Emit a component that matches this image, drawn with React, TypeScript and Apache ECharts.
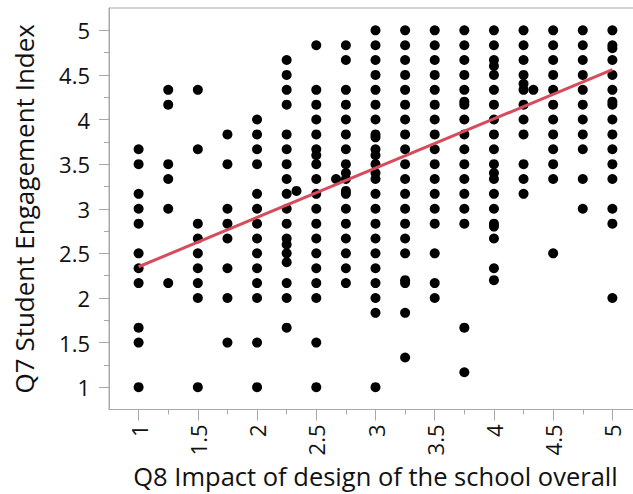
import React, { useEffect, useRef } from "react";
import * as echarts from "echarts";

// x positions (Q8) of each column of points
const xValues = [1, 1.25, 1.5, 1.75, 2, 2.25, 2.333, 2.5, 2.667, 2.75, 3, 3.25, 3.5, 3.75, 4, 4.25, 4.333, 4.5, 4.75, 5];

// y values (Q7) for each column, in the same order as xValues
const yColumns: number[][] = [
  [3.667, 3.5, 3.167, 3, 2.833, 2.5, 2.333, 2.167, 1.667, 1.5, 1],
  [4.333, 4.167, 3.5, 3.333, 3, 2.167],
  [4.333, 3.667, 2.833, 2.667, 2.5, 2.333, 2.167, 2, 1],
  [3.833, 3.5, 3, 2.833, 2.667, 2.333, 2, 1.5],
  [4, 3.833, 3.667, 3.5, 3.167, 3, 2.833, 2.667, 2.5, 2.333, 2.167, 2, 1.5, 1],
  [4.667, 4.5, 4.333, 4.167, 3.833, 3.667, 3.5, 3.333, 3.167, 3, 2.833, 2.667, 2.6, 2.5, 2.4, 2.167, 2, 1.667],
  [3.2],
  [4.833, 4.333, 4.167, 4, 3.833, 3.667, 3.6, 3.5, 3.333, 3.167, 3, 2.833, 2.667, 2.5, 2.333, 2.167, 2, 1.5, 1],
  [3.333],
  [4.833, 4.667, 4.333, 4.167, 4, 3.833, 3.667, 3.5, 3.4, 3.333, 3.2, 3.167, 3, 2.833, 2.667, 2.5, 2.333, 2.167],
  [5, 4.833, 4.667, 4.5, 4.333, 4.167, 4, 3.833, 3.8, 3.667, 3.6, 3.5, 3.4, 3.333, 3.167, 3, 2.833, 2.667, 2.5, 2.333, 2.167, 2, 1.833, 1],
  [5, 4.833, 4.667, 4.5, 4.333, 4.167, 4, 3.833, 3.667, 3.5, 3.333, 3.167, 3, 2.833, 2.667, 2.5, 2.2, 2.167, 1.833, 1.333],
  [5, 4.833, 4.667, 4.5, 4.333, 4.167, 4, 3.833, 3.667, 3.5, 3.333, 3.167, 3, 2.833, 2.5, 2.167, 2],
  [5, 4.833, 4.667, 4.5, 4.333, 4.2, 4.167, 4, 3.833, 3.667, 3.5, 3.333, 3.167, 3, 2.833, 1.667, 1.167],
  [5, 4.833, 4.667, 4.6, 4.5, 4.333, 4.167, 4, 3.833, 3.667, 3.5, 3.4, 3.333, 3.167, 3, 2.833, 2.8, 2.667, 2.333, 2.2],
  [5, 4.833, 4.667, 4.5, 4.4, 4.333, 4.167, 4, 3.833, 3.5, 3.333, 3.167],
  [4.333],
  [5, 4.833, 4.667, 4.5, 4.333, 4.167, 4, 3.833, 3.667, 3.5, 3.333, 2.5],
  [5, 4.833, 4.667, 4.5, 4.333, 4.167, 4, 3.833, 3.667, 3.333, 3],
  [5, 4.833, 4.8, 4.667, 4.5, 4.333, 4.2, 4.167, 4, 3.833, 3.667, 3.5, 3.333, 3, 2.833, 2],
];

// fitted line endpoints
const fitX = [1, 5];
const fitY = [2.35, 4.56];

// tick labels
const xTickLabels = [1, 1.5, 2, 2.5, 3, 3.5, 4, 4.5, 5];
const yTickLabels = [1, 1.5, 2, 2.5, 3, 3.5, 4, 4.5, 5];
const minorTicks = [1.25, 1.75, 2.25, 2.75, 3.25, 3.75, 4.25, 4.75];

const xTitle = "Q8 Impact of design of the school overall";
const yTitle = "Q7 Student Engagement Index";

const FONT = "'Open Sans', 'Noto Sans', sans-serif";
const AXIS_GRAY = "#a8a8a8";

export default function App() {
  const ref = useRef<HTMLDivElement>(null);

  useEffect(() => {
    if (!ref.current) return;
    const chart = echarts.init(ref.current, undefined, { renderer: "svg" });

    const points: number[][] = [];
    xValues.forEach((x, i) => {
      yColumns[i].forEach((y) => points.push([x, y]));
    });
    const fitLine = fitX.map((x, i) => [x, fitY[i]]);

    const baseAxis = {
      type: "value" as const,
      min: 0.75,
      max: 5.25,
      splitLine: { show: false },
    };

    chart.setOption({
      animation: false,
      grid: {
        left: 109,
        top: 8,
        width: 533,
        height: 401.5,
        containLabel: false,
        outerBoundsMode: "none",
        show: true,
        borderColor: AXIS_GRAY,
        borderWidth: 1,
        backgroundColor: "transparent",
      },
      xAxis: [
        {
          ...baseAxis,
          position: "bottom",
          axisLine: { show: true, onZero: false, lineStyle: { color: AXIS_GRAY, width: 1 } },
          axisTick: { show: true, length: 11, customValues: xTickLabels, lineStyle: { color: AXIS_GRAY } },
          axisLabel: {
            show: true,
            customValues: xTickLabels,
            rotate: 90,
            margin: 15,
            fontSize: 22,
            color: "#111",
            fontFamily: FONT,
          },
          name: xTitle,
          nameLocation: "middle",
          nameGap: 53,
          nameTextStyle: { fontSize: 25.5, color: "#111", fontFamily: FONT },
        },
        {
          ...baseAxis,
          position: "bottom",
          axisLine: { show: false },
          axisTick: { show: true, length: 5, customValues: minorTicks, lineStyle: { color: AXIS_GRAY } },
          axisLabel: { show: false },
        },
      ],
      yAxis: [
        {
          ...baseAxis,
          position: "left",
          axisLine: { show: true, onZero: false, lineStyle: { color: AXIS_GRAY, width: 1 } },
          axisTick: { show: true, length: 10, customValues: yTickLabels, lineStyle: { color: AXIS_GRAY } },
          axisLabel: {
            show: true,
            customValues: yTickLabels,
            margin: 19,
            fontSize: 22,
            color: "#111",
            fontFamily: FONT,
          },
          name: yTitle,
          nameLocation: "middle",
          nameRotate: 90,
          nameGap: 72,
          nameTextStyle: { fontSize: 26, color: "#111", fontFamily: FONT },
        },
        {
          ...baseAxis,
          position: "left",
          axisLine: { show: false },
          axisTick: { show: true, length: 5, customValues: minorTicks, lineStyle: { color: AXIS_GRAY } },
          axisLabel: { show: false },
        },
      ],
      series: [
        {
          type: "scatter",
          xAxisIndex: 0,
          yAxisIndex: 0,
          data: points,
          symbol: "circle",
          symbolSize: 10,
          itemStyle: { color: "#000", opacity: 1 },
          z: 2,
        },
        {
          type: "line",
          xAxisIndex: 0,
          yAxisIndex: 0,
          data: fitLine,
          symbol: "none",
          lineStyle: { color: "#d64c5c", width: 3 },
          z: 3,
        },
      ],
    });

    return () => chart.dispose();
  }, []);

  return (
    <div
      ref={ref}
      style={{ position: "absolute", left: 0, top: 0, width: 633, height: 494 }}
    />
  );
}
